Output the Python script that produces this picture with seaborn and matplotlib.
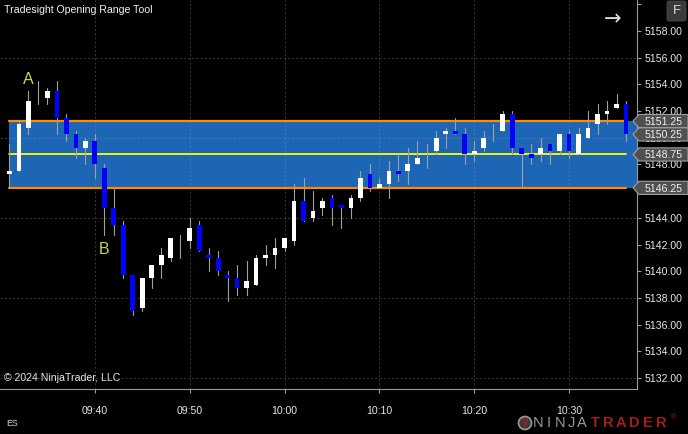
import numpy as np
import pandas as pd
import matplotlib
matplotlib.use("Agg")
import matplotlib.pyplot as plt
import matplotlib.transforms as mtransforms
from matplotlib.patches import Polygon, FancyBboxPatch, Circle
import seaborn as sns

# ---------------- data ----------------
times = ["09:31", "09:32", "09:33", "09:34", "09:35", "09:36", "09:37", "09:38", "09:39", "09:40",
         "09:41", "09:42", "09:43", "09:44", "09:45", "09:46", "09:47", "09:48", "09:49", "09:50",
         "09:51", "09:52", "09:53", "09:54", "09:55", "09:56", "09:57", "09:58", "09:59", "10:00",
         "10:01", "10:02", "10:03", "10:04", "10:05", "10:06", "10:07", "10:08", "10:09", "10:10",
         "10:11", "10:12", "10:13", "10:14", "10:15", "10:16", "10:17", "10:18", "10:19", "10:20",
         "10:21", "10:22", "10:23", "10:24", "10:25", "10:26", "10:27", "10:28", "10:29", "10:30",
         "10:31", "10:32", "10:33", "10:34", "10:35", "10:36"]
opens = [5147.25, 5147.5, 5150.75, 5153.25, 5153.0, 5153.5, 5151.5, 5150.25, 5149.25, 5149.75,
         5147.75, 5144.75, 5143.5, 5139.75, 5137.25, 5139.5, 5140.5, 5141.0, 5142.0, 5142.25,
         5143.5, 5141.25, 5141.0, 5139.75, 5139.5, 5138.75, 5139.0, 5141.0, 5141.25, 5141.75,
         5142.25, 5145.25, 5144.0, 5144.75, 5145.5, 5145.0, 5144.75, 5145.5, 5147.25, 5146.25,
         5146.5, 5147.5, 5147.5, 5148.0, 5149.0, 5149.0, 5150.25, 5150.5, 5150.25, 5148.75,
         5149.25, 5150.5, 5150.5, 5151.75, 5149.25, 5148.75, 5148.75, 5149.5, 5149.0, 5150.25,
         5148.75, 5150.0, 5151.0, 5151.75, 5152.25, 5152.5]
highs = [5149.5, 5151.25, 5153.5, 5154.25, 5153.75, 5154.25, 5151.75, 5150.5, 5150.0, 5150.25,
         5148.0, 5146.25, 5143.75, 5139.75, 5139.5, 5140.5, 5141.75, 5142.5, 5142.75, 5144.0,
         5143.75, 5141.75, 5141.5, 5140.0, 5140.5, 5140.75, 5141.25, 5142.0, 5142.5, 5142.5,
         5146.5, 5147.0, 5146.0, 5145.5, 5145.75, 5145.0, 5145.75, 5147.5, 5148.0, 5147.0,
         5148.25, 5148.75, 5149.25, 5149.75, 5149.5, 5150.5, 5150.75, 5151.5, 5150.75, 5149.75,
         5150.5, 5151.0, 5152.0, 5152.0, 5149.25, 5149.5, 5150.0, 5149.5, 5150.25, 5150.5,
         5150.75, 5152.0, 5152.5, 5152.75, 5153.25, 5152.75]
lows = [5146.25, 5147.5, 5150.25, 5152.5, 5152.5, 5150.25, 5149.75, 5148.5, 5148.0, 5147.0,
        5142.75, 5142.75, 5139.5, 5136.75, 5137.0, 5138.75, 5139.5, 5140.75, 5141.0, 5141.75,
        5141.5, 5140.0, 5139.75, 5137.75, 5138.25, 5138.25, 5139.0, 5140.5, 5140.25, 5141.5,
        5142.0, 5143.75, 5143.75, 5144.25, 5143.5, 5143.25, 5144.0, 5145.25, 5146.0, 5146.25,
        5145.5, 5146.75, 5146.5, 5148.0, 5147.75, 5148.75, 5149.25, 5150.25, 5148.0, 5148.25,
        5149.0, 5149.75, 5150.5, 5148.75, 5146.25, 5148.0, 5148.25, 5148.0, 5148.75, 5148.5,
        5148.75, 5150.0, 5150.25, 5151.0, 5152.25, 5149.75]
closes = [5147.5, 5151.0, 5152.75, 5153.25, 5153.5, 5151.5, 5150.25, 5149.25, 5149.75, 5148.0,
          5144.75, 5143.5, 5139.75, 5137.0, 5139.5, 5140.5, 5141.25, 5142.5, 5142.0, 5143.25,
          5141.5, 5141.0, 5140.0, 5139.5, 5138.75, 5139.25, 5141.0, 5141.25, 5141.75, 5142.5,
          5145.25, 5143.75, 5144.5, 5145.25, 5144.75, 5144.75, 5145.5, 5147.0, 5146.25, 5146.5,
          5147.5, 5147.25, 5148.0, 5148.5, 5149.0, 5150.0, 5150.5, 5150.25, 5148.75, 5149.0,
          5150.0, 5150.5, 5151.75, 5149.25, 5148.75, 5148.5, 5149.25, 5149.0, 5150.25, 5149.0,
          5150.25, 5150.75, 5151.75, 5152.0, 5152.5, 5150.25]

or_high = 5151.25
or_low = 5146.25
or_mid = 5148.75
last_price = 5150.25
marker_prices = [or_high, last_price, or_mid, or_low]

y_ticks = [5132, 5134, 5136, 5138, 5140, 5142, 5144, 5146, 5148, 5150, 5152, 5154, 5156, 5158, 5160]
grid_prices = [5132, 5138, 5144, 5150, 5156]
x_tick_labels = ["09:40", "09:50", "10:00", "10:10", "10:20", "10:30"]
labels_ab = ["A", "B"]
labels_ab_time = ["09:33", "09:41"]
labels_ab_price = [5154.35, 5141.6]

# ---------------- style ----------------
sns.set_theme(style="dark", rc={"axes.facecolor": "black", "figure.facecolor": "black",
                                 "axes.edgecolor": "#9a9a9a", "lines.scale_dashes": False})
plt.rcParams["font.family"] = ["Liberation Sans", "DejaVu Sans"]

W, H = 688, 434
def fx(px):
    return px / W
def fy(py):
    return 1 - py / H

def to_min(t):
    h, m = map(int, t.split(":"))
    return (h - 9) * 60 + m - 30

x = np.array([to_min(t) for t in times], dtype=float)
o = np.array(opens); h_ = np.array(highs); l_ = np.array(lows); c = np.array(closes)

fig = plt.figure(figsize=(W / 100, H / 100), dpi=100)
ax = fig.add_axes([0, fy(389), fx(637), 389 / H])
ax.set_facecolor("black")
ax.grid(False)
x_max = 67.16
ax.set_xlim(0, x_max)
ax.set_ylim(5131.18, 5160.32)

# opening range box
box_color = "#1c66b5"
ax.fill_between([x[0], x_max], or_low, or_high, color=box_color, lw=0, zorder=1)

# grid
gcol = (0.6, 0.6, 0.6, 0.35)
ax.hlines(grid_prices, 0, x_max, colors=[gcol], linestyles=[(0, (1.5, 1.5))], lw=0.75, zorder=2)
xt = [to_min(t) for t in x_tick_labels]
ax.vlines(xt, 5131.18, 5160.32, colors=[gcol], linestyles=[(0, (1.5, 1.5))], lw=0.75, zorder=2)

# OR lines via seaborn
or_df = pd.DataFrame({
    "x": [x[0], x[-1], x[0], x[-1]],
    "y": [or_high, or_high, or_low, or_low],
    "lvl": ["h", "h", "l", "l"],
})
sns.lineplot(data=or_df, x="x", y="y", units="lvl", estimator=None, color="#ff8c00",
             lw=1.6, ax=ax, zorder=3, legend=False)
mid_df = pd.DataFrame({"x": [x[0], x[-1]], "y": [or_mid, or_mid]})
sns.lineplot(data=mid_df, x="x", y="y", color="#ffff00", lw=1.3, ax=ax, zorder=3, legend=False)

# wicks via seaborn
wick_df = pd.DataFrame({
    "x": np.concatenate([x, x]),
    "p": np.concatenate([l_, h_]),
    "bar": np.concatenate([np.arange(len(x)), np.arange(len(x))]),
})
sns.lineplot(data=wick_df, x="x", y="p", units="bar", estimator=None, sort=False,
             color="#a0a0a0", lw=0.8, ax=ax, zorder=4, legend=False)

# bodies
colors = ["#ffffff" if cc >= oo else "#0000ff" for oo, cc in zip(o, c)]
ax.bar(x, np.abs(c - o), bottom=np.minimum(o, c), width=0.5, color=colors, lw=0, zorder=5)

# A / B labels
for s, t, p in zip(labels_ab, labels_ab_time, labels_ab_price):
    ax.text(to_min(t), p, s, color="#c6da48", fontsize=11.5, ha="center", va="center", zorder=6)

# axes formatting
ax.set_xlabel(""); ax.set_ylabel("")
for sp in ["top", "left"]:
    ax.spines[sp].set_visible(False)
for sp in ["right", "bottom"]:
    ax.spines[sp].set_color("#9a9a9a")
    ax.spines[sp].set_linewidth(0.8)
ax.yaxis.tick_right()
ax.set_yticks(y_ticks)
ax.set_yticklabels([f"{v:.2f}" if v < 5160 else "" for v in y_ticks])
ax.set_xticks(xt)
ax.set_xticklabels(x_tick_labels)
ax.tick_params(axis="y", colors="#9a9a9a", labelcolor="#e6e6e6", length=3, width=0.8,
               pad=2.5, labelsize=7.6, right=True, left=False)
ax.tick_params(axis="x", colors="#9a9a9a", labelcolor="#e6e6e6", length=3, width=0.8,
               pad=9, labelsize=7.6, bottom=True)

# price markers on the right axis
trans = mtransforms.blended_transform_factory(fig.transFigure, ax.transData)
hh = 6.6 / 13.35
for p in marker_prices:
    poly = Polygon([(fx(633), p), (fx(639), p + hh), (fx(688), p + hh), (fx(688), p - hh),
                    (fx(639), p - hh)], closed=True, transform=trans, facecolor="#505050",
                   edgecolor="#a0a0a0", lw=0.8, zorder=4)
    fig.add_artist(poly)
    fig.text(fx(645), p, f"{p:.2f}", transform=trans, color="#f0f0f0", fontsize=7.6,
             va="center_baseline", ha="left", zorder=5)

# header/footer texts
fig.text(fx(4), fy(10), "Tradesight Opening Range Tool", color="#f2f2f2", fontsize=7.6,
         ha="left", va="center")
fig.text(fx(4), fy(378), "\u00a9 2024 NinjaTrader, LLC", color="#e6e6e6", fontsize=7.6,
         ha="left", va="center")
fig.text(fx(6), fy(423), "ES", color="#d0d0d0", fontsize=6.3, ha="left", va="center")
fig.text(fx(613), fy(19), "\u2192", color="#e0e0e0", fontsize=15, ha="center", va="center",
         family="DejaVu Sans")

pix = mtransforms.IdentityTransform()
fbox = FancyBboxPatch((667, H - 21), 19, 20, boxstyle="round,pad=0,rounding_size=2",
                      transform=pix, facecolor="#3a3a3a", edgecolor="#4a4a4a", lw=0.6, zorder=4)
fig.add_artist(fbox)
fig.text(fx(676.5), fy(11), "F", color="#d8d8d8", fontsize=9.5, ha="center", va="center", zorder=5)

# NinjaTrader logo
logo = Circle((525, H - 423), 6.5, transform=pix, facecolor="#3a3a3a", edgecolor="#9a9a9a",
              lw=1.2, zorder=4)
fig.add_artist(logo)
fig.text(fx(525), fy(423.5), "V", color="#b01c1c", fontsize=7, fontweight="bold",
         ha="center", va="center", zorder=5)
for i, ch in enumerate("NINJA"):
    fig.text(fx(538 + i * 11), fy(423), ch, color="#9a9a9a", fontsize=10.5, ha="center",
             va="center")
for i, ch in enumerate("TRADER"):
    fig.text(fx(595 + i * 13.2), fy(423), ch, color="#a81c1c", fontsize=10.5,
             fontweight="bold", ha="center", va="center")
fig.text(fx(671), fy(418), "\u00ae", color="#a81c1c", fontsize=5, ha="left", va="center")

fig.savefig("out.png", dpi=100, facecolor="black")
